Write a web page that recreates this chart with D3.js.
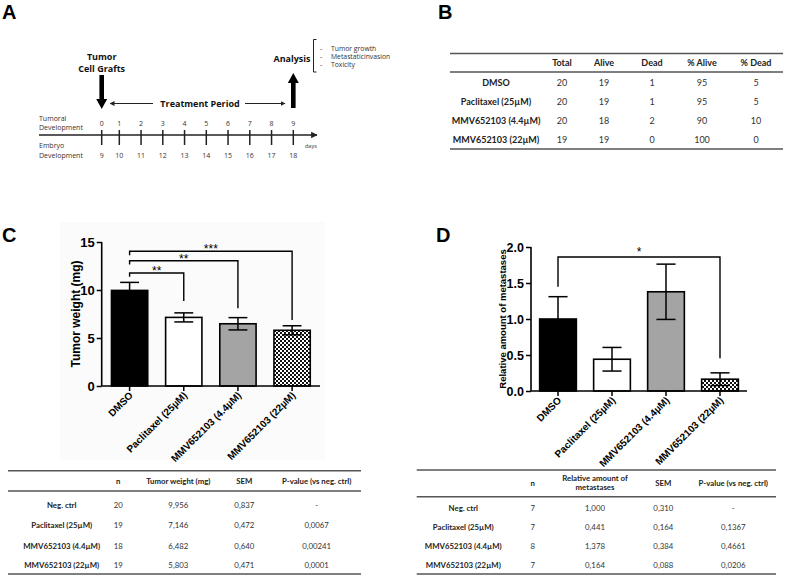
<!DOCTYPE html>
<html><head><meta charset="utf-8">
<script src="https://cdn.jsdelivr.net/npm/d3@7"></script>
<style>body{margin:0;background:#fff}svg{display:block}</style>
</head><body>
<svg id="fig" width="785" height="576"></svg>
<script>
// ---------------- DATA ----------------
const groups = ["DMSO", "Paclitaxel (25µM)", "MMV652103 (4.4µM)", "MMV652103 (22µM)"];
const tableRowsB = ["DMSO", "Paclitaxel (25µM)", "MMV652103 (4.4µM)", "MMV652103 (22µM)"];
const tableRowsCD = ["Neg. ctrl", "Paclitaxel (25µM)", "MMV652103 (4.4µM)", "MMV652103 (22µM)"];

// Panel A timeline
const tumoralDays = [0, 1, 2, 3, 4, 5, 6, 7, 8, 9];
const embryoDays = [9, 10, 11, 12, 13, 14, 15, 16, 17, 18];
const analysisItems = ["Tumor growth", "Metastaticinvasion", "Toxicity"];

// Panel B toxicity
const toxHeaders = ["Total", "Alive", "Dead", "% Alive", "% Dead"];
const toxTotal = [20, 20, 20, 19];
const toxAlive = [19, 19, 18, 19];
const toxDead = [1, 1, 2, 0];
const toxPctAlive = [95, 95, 90, 100];
const toxPctDead = [5, 5, 10, 0];

// Panel C tumor weight
const tumorWeight = [9.956, 7.146, 6.482, 5.803];
const tumorSEM = [0.837, 0.472, 0.640, 0.471];
const tumorN = [20, 19, 18, 19];
const tumorWeightTxt = ["9,956", "7,146", "6,482", "5,803"];
const tumorSEMTxt = ["0,837", "0,472", "0,640", "0,471"];
const tumorP = ["-", "0,0067", "0,00241", "0,0001"];
const tumorTicks = [0, 5, 10, 15];
const tumorSigTo = [1, 2, 3];
const tumorSigLevel = [11.77, 13.05, 14.03];
const tumorSigLeft = [11.37, 12.65, 13.63];
const tumorSigRight = [8.85, 8.09, 6.875];
const tumorSigLabel = ["**", "**", "***"];

// Panel D metastases
const metastases = [1.000, 0.441, 1.378, 0.164];
const metSEM = [0.310, 0.164, 0.384, 0.088];
const metN = [7, 7, 8, 7];
const metTxt = ["1,000", "0,441", "1,378", "0,164"];
const metSEMTxt = ["0,310", "0,164", "0,384", "0,088"];
const metP = ["-", "0,1367", "0,4661", "0,0206"];
const metTicks = [0, 0.5, 1.0, 1.5, 2.0];
const metSigTo = [3];
const metSigLevel = [1.861];
const metSigLeft = [1.449];
const metSigRight = [0.454];
const metSigLabel = ["*"];

// ---------------- STYLE ----------------
const barFills = ["#000000", "#ffffff", "#a4a4a4", "url(#checker)"];
const ARIAL = "'Liberation Sans', Arial, sans-serif";
const TBL = "Lato, 'Open Sans', sans-serif";
const DIA = "'Open Sans', 'DejaVu Sans', sans-serif";

const svg = d3.select("#fig");
const defs = svg.append("defs");
const pat = defs.append("pattern").attr("id", "checker").attr("patternUnits", "userSpaceOnUse")
  .attr("width", 4).attr("height", 4);
pat.append("rect").attr("width", 4).attr("height", 4).attr("fill", "#fff");
pat.append("rect").attr("width", 2).attr("height", 2).attr("fill", "#111");
pat.append("rect").attr("x", 2).attr("y", 2).attr("width", 2).attr("height", 2).attr("fill", "#111");

const mk = defs.append("marker").attr("id", "ah").attr("viewBox", "0 0 10 10").attr("refX", 9).attr("refY", 5)
  .attr("markerWidth", 5).attr("markerHeight", 5).attr("orient", "auto-start-reverse");
mk.append("path").attr("d", "M0,0 L10,5 L0,10 z").attr("fill", "#222");

// Panel letters
const letters = [["A", 2, 19], ["B", 438, 19], ["C", 2, 242], ["D", 436, 242]];
svg.selectAll("text.letter").data(letters).enter().append("text").attr("class", "letter")
  .attr("x", d => d[1]).attr("y", d => d[2]).text(d => d[0])
  .attr("font-family", ARIAL).attr("font-weight", "bold").attr("font-size", 20).attr("fill", "#000");

// ---------------- PANEL A ----------------
(function () {
  const g = svg.append("g");
  const xDay = d3.scaleLinear().domain([0, 1, 9]).range([101.7, 119.3, 293.3]);
  const axisY = 135;
  g.append("line").attr("x1", 39).attr("x2", 317).attr("y1", axisY).attr("y2", axisY)
    .attr("stroke", "#222").attr("stroke-width", 1.3).attr("marker-end", "url(#ah)");
  g.selectAll("line.tk").data(tumoralDays).enter().append("line").attr("class", "tk")
    .attr("x1", d => xDay(d)).attr("x2", d => xDay(d)).attr("y1", axisY - 5).attr("y2", axisY + 10)
    .attr("stroke", "#222").attr("stroke-width", 1.5);
  g.selectAll("text.td").data(tumoralDays).enter().append("text").attr("class", "td")
    .attr("x", d => xDay(d)).attr("y", 126).attr("text-anchor", "middle").text(d => d)
    .attr("font-family", DIA).attr("font-size", 7).attr("fill", "#333");
  g.selectAll("text.ed").data(embryoDays).enter().append("text").attr("class", "ed")
    .attr("x", (d, i) => xDay(tumoralDays[i])).attr("y", 157.5).attr("text-anchor", "middle").text(d => d)
    .attr("font-family", DIA).attr("font-size", 7).attr("fill", "#333");
  const side = [["Tumoral", 121], ["Development", 130], ["Embryo", 148], ["Development", 157.5]];
  g.selectAll("text.sd").data(side).enter().append("text").attr("class", "sd")
    .attr("x", 39).attr("y", d => d[1]).text(d => d[0])
    .attr("font-family", DIA).attr("font-size", 7).attr("fill", "#333");
  g.append("text").attr("x", 305).attr("y", 148).text("days")
    .attr("font-family", DIA).attr("font-size", 5.5).attr("fill", "#333");

  const bold = [["Tumor", 101.7, 60], ["Cell Grafts", 101.7, 72], ["Treatment Period", 200, 106.5], ["Analysis", 292, 62]];
  g.selectAll("text.bh").data(bold).enter().append("text").attr("class", "bh")
    .attr("x", d => d[1]).attr("y", d => d[2]).attr("text-anchor", "middle").text(d => d[0])
    .attr("font-family", DIA).attr("font-weight", "bold").attr("font-size", 9).attr("fill", "#111");

  const xs = xDay(0), xe = xDay(9);
  g.append("rect").attr("x", xs - 2.3).attr("y", 75).attr("width", 4.6).attr("height", 25).attr("fill", "#000");
  g.append("path").attr("d", `M${xs - 5.5},99 L${xs + 5.5},99 L${xs},109 Z`).attr("fill", "#000");
  g.append("rect").attr("x", xe - 2.3).attr("y", 82).attr("width", 4.6).attr("height", 26).attr("fill", "#000");
  g.append("path").attr("d", `M${xe - 5.5},83 L${xe + 5.5},83 L${xe},73 Z`).attr("fill", "#000");
  g.append("line").attr("x1", 153).attr("x2", 110).attr("y1", 103.5).attr("y2", 103.5)
    .attr("stroke", "#222").attr("stroke-width", 1).attr("marker-end", "url(#ah)");
  g.append("line").attr("x1", 245).attr("x2", 285).attr("y1", 103.5).attr("y2", 103.5)
    .attr("stroke", "#222").attr("stroke-width", 1).attr("marker-end", "url(#ah)");
  g.append("path").attr("d", "M316.5,39.5 L313.5,39.5 L313.5,72 L316.5,72").attr("fill", "none")
    .attr("stroke", "#222").attr("stroke-width", 1);
  g.selectAll("text.li").data(analysisItems).enter().append("text").attr("class", "li")
    .attr("x", 320).attr("y", (d, i) => 50.5 + i * 8).text(d => "-")
    .attr("font-family", DIA).attr("font-size", 7).attr("fill", "#333");
  g.selectAll("text.lt").data(analysisItems).enter().append("text").attr("class", "lt")
    .attr("x", 331).attr("y", (d, i) => 50.5 + i * 8).text(d => d)
    .attr("font-family", DIA).attr("font-size", 6.8).attr("fill", "#333");
})();

// ---------------- TABLE helper ----------------
function drawTable(cfg) {
  const g = svg.append("g");
  cfg.lines.forEach(y => g.append("line").attr("x1", cfg.x0).attr("x2", cfg.x1).attr("y1", y).attr("y2", y)
    .attr("stroke", "#555").attr("stroke-width", 1.4));
  cfg.headers.forEach((h, j) => {
    const lines = Array.isArray(h) ? h : [h];
    const t = g.append("text").attr("x", cfg.cols[j + 1]).attr("text-anchor", "middle")
      .attr("font-family", TBL).attr("font-weight", "bold").attr("font-size", cfg.fs).attr("fill", "#222");
    if (lines.length === 1) t.attr("y", cfg.headY).text(lines[0]);
    else lines.forEach((l, k) => t.append("tspan").attr("x", cfg.cols[j + 1])
      .attr("y", cfg.headY - cfg.fs * 0.6 + k * cfg.fs * 1.15).text(l));
  });
  const rows = g.selectAll("g.row").data(cfg.labels).enter().append("g").attr("class", "row");
  rows.append("text").attr("x", cfg.cols[0]).attr("y", (d, i) => cfg.rowY[i]).attr("text-anchor", "middle")
    .attr("font-family", TBL).attr("font-weight", "bold").attr("font-size", cfg.fs).attr("fill", "#222").text(d => d);
  cfg.columns.forEach((colData, j) => {
    g.selectAll(null).data(colData).enter().append("text")
      .attr("x", cfg.cols[j + 1]).attr("y", (d, i) => cfg.rowY[i]).attr("text-anchor", "middle")
      .attr("font-family", TBL).attr("font-size", cfg.fs).attr("fill", "#333").text(d => d);
  });
}

drawTable({
  x0: 450, x1: 783, lines: [53.5, 72, 149], fs: 9,
  cols: [496, 562, 604, 652, 702, 756], headers: toxHeaders, headY: 66,
  labels: tableRowsB, rowY: [86, 105, 124, 143],
  columns: [toxTotal, toxAlive, toxDead, toxPctAlive, toxPctDead]
});

drawTable({
  x0: 8, x1: 361, lines: [470.7, 491, 574], fs: 7.8,
  cols: [61.7, 118.3, 178.3, 244.3, 316.7],
  headers: ["n", "Tumor weight (mg)", "SEM", "P-value (vs neg. ctrl)"], headY: 483.5,
  labels: tableRowsCD, rowY: [508, 528, 549, 568],
  columns: [tumorN, tumorWeightTxt, tumorSEMTxt, tumorP]
});

drawTable({
  x0: 416.7, x1: 776, lines: [470, 496.7, 574], fs: 7.8,
  cols: [463.3, 532.7, 595, 663.3, 733.3],
  headers: ["n", ["Relative amount of", "metastases"], "SEM", "P-value (vs neg. ctrl)"], headY: 486,
  labels: tableRowsCD, rowY: [510.5, 529.5, 548.5, 568],
  columns: [metN, metTxt, metSEMTxt, metP]
});

// ---------------- BAR CHART helper ----------------
function barChart(cfg) {
  const g = svg.append("g");
  if (cfg.bg) g.append("rect").attr("x", cfg.bg[0]).attr("y", cfg.bg[1]).attr("width", cfg.bg[2])
    .attr("height", cfg.bg[3]).attr("fill", "#fbfbfb");
  const x = d3.scaleBand().domain(groups).range([cfg.xl, cfg.xr]).paddingInner(cfg.pi).paddingOuter(cfg.po);
  const y = d3.scaleLinear().domain([0, cfg.ymax]).range([cfg.yb, cfg.yt]);
  const bw = x.bandwidth(), cx = i => x(groups[i]) + bw / 2;

  g.selectAll("rect.bar").data(cfg.values).enter().append("rect").attr("class", "bar")
    .attr("x", (d, i) => x(groups[i])).attr("width", bw)
    .attr("y", d => y(d)).attr("height", d => y(0) - y(d))
    .attr("fill", (d, i) => barFills[i]).attr("stroke", "#000").attr("stroke-width", 1.6);

  const cap = bw * 0.26;
  const eb = g.selectAll("g.eb").data(cfg.values).enter().append("g").attr("class", "eb")
    .attr("stroke", "#000").attr("stroke-width", 1.5);
  eb.append("line").attr("x1", (d, i) => cx(i)).attr("x2", (d, i) => cx(i))
    .attr("y1", (d, i) => y(d - cfg.sem[i])).attr("y2", (d, i) => y(d + cfg.sem[i]));
  eb.append("line").attr("x1", (d, i) => cx(i) - cap).attr("x2", (d, i) => cx(i) + cap)
    .attr("y1", (d, i) => y(d + cfg.sem[i])).attr("y2", (d, i) => y(d + cfg.sem[i]));
  eb.append("line").attr("x1", (d, i) => cx(i) - cap).attr("x2", (d, i) => cx(i) + cap)
    .attr("y1", (d, i) => y(d - cfg.sem[i])).attr("y2", (d, i) => y(d - cfg.sem[i]));

  const ya = g.append("g").attr("transform", `translate(${cfg.xl},0)`)
    .call(d3.axisLeft(y).tickValues(cfg.ticks).tickFormat(cfg.fmt).tickSize(5).tickPadding(2).tickSizeOuter(0));
  const xa = g.append("g").attr("transform", `translate(0,${cfg.yb})`)
    .call(d3.axisBottom(x).tickSize(5).tickSizeOuter(0).tickFormat(""));
  [ya, xa].forEach(a => {
    a.select(".domain").attr("stroke", "#000").attr("stroke-width", 1.6);
    a.selectAll(".tick line").attr("stroke", "#000").attr("stroke-width", 1.5);
  });
  xa.select(".domain").attr("d", `M${cfg.xl},0H${cfg.xr}`);
  ya.select(".domain").attr("d", `M0,${cfg.yb}V${cfg.yt}`);
  ya.selectAll(".tick text").attr("font-family", ARIAL).attr("font-weight", "bold")
    .attr("font-size", cfg.tfs).attr("fill", "#000");

  g.selectAll("text.xl").data(groups).enter().append("text").attr("class", "xl")
    .attr("transform", (d, i) => `translate(${cx(i) + 4},${cfg.yb + 10}) rotate(-45)`)
    .attr("text-anchor", "end").attr("font-family", ARIAL).attr("font-weight", "bold")
    .attr("font-size", 10).attr("fill", "#000").text(d => d);

  g.append("text").attr("transform", `translate(${cfg.ylx},${(cfg.yb + cfg.yt) / 2}) rotate(-90)`)
    .attr("text-anchor", "middle").attr("font-family", ARIAL).attr("font-weight", "bold")
    .attr("font-size", cfg.lfs).attr("fill", "#000").text(cfg.ylabel);

  cfg.sig.to.forEach((t, k) => {
    const x1 = cx(0), x2 = cx(t), yl = y(cfg.sig.level[k]);
    g.append("path").attr("d", `M${x1},${y(cfg.sig.left[k])} V${yl} H${x2} V${y(cfg.sig.right[k])}`)
      .attr("fill", "none").attr("stroke", "#000").attr("stroke-width", 1.4);
    g.append("text").attr("x", (x1 + x2) / 2).attr("y", yl + cfg.sig.dy).attr("text-anchor", "middle")
      .attr("font-family", ARIAL).attr("font-size", 12).attr("fill", "#000").text(cfg.sig.label[k]);
  });
}

barChart({
  xl: 101.7, xr: 320, pi: 0.33, po: 0.18, yb: 386, yt: 242, ymax: 15,
  values: tumorWeight, sem: tumorSEM, ticks: tumorTicks, fmt: d3.format("d"), tfs: 13,
  ylabel: "Tumor weight (mg)", ylx: 80, lfs: 12, bg: [60, 222, 265, 238],
  sig: { to: tumorSigTo, level: tumorSigLevel, left: tumorSigLeft, right: tumorSigRight, label: tumorSigLabel, dy: 2 }
});

barChart({
  xl: 531, xr: 747, pi: 0.32, po: 0.16, yb: 391, yt: 247, ymax: 2,
  values: metastases, sem: metSEM, ticks: metTicks, fmt: d3.format(".1f"), tfs: 12.5,
  ylabel: "Relative amount of metastases", ylx: 506, lfs: 9.5,
  sig: { to: metSigTo, level: metSigLevel, left: metSigLeft, right: metSigRight, label: metSigLabel, dy: -1 }
});
</script>
</body></html>
